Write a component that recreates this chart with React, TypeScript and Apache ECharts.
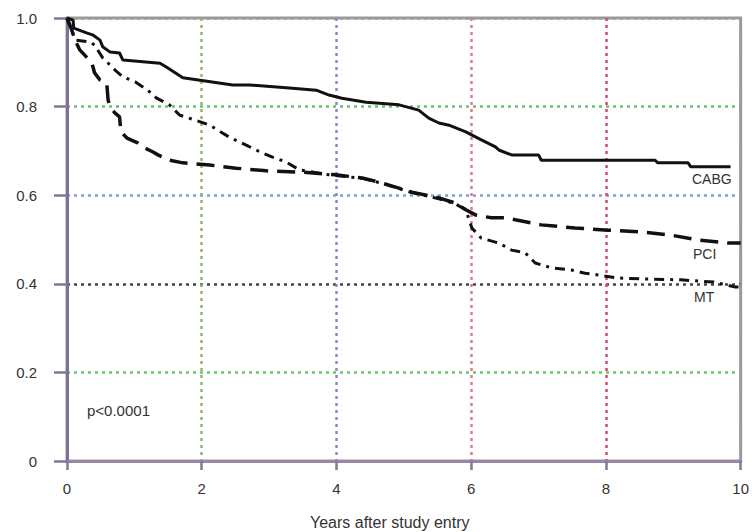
import React, { useEffect, useRef } from "react";
import * as echarts from "echarts";

// Years after study entry (x) and survival proportion (y) for each group
const cabgYears = [0, 0.09, 0.1, 0.3, 0.38, 0.49, 0.53, 0.64, 0.78, 0.83, 1.38, 1.48, 1.72, 2.46, 2.71, 3.3, 3.7, 3.89, 4.08, 4.44, 4.93, 5.22, 5.37, 5.52, 5.67, 5.92, 6.15, 6.36, 6.41, 6.6, 7.0, 7.04, 8.73, 8.77, 9.22, 9.26, 9.85];
const cabgSurv = [1.0, 0.995, 0.977, 0.966, 0.962, 0.95, 0.935, 0.923, 0.921, 0.905, 0.898, 0.889, 0.865, 0.849, 0.849, 0.842, 0.837, 0.826, 0.819, 0.81, 0.804, 0.792, 0.774, 0.763, 0.758, 0.743, 0.725, 0.709, 0.702, 0.691, 0.691, 0.679, 0.679, 0.673, 0.673, 0.664, 0.664];

const pciYears = [0, 0.07, 0.12, 0.19, 0.3, 0.37, 0.41, 0.49, 0.59, 0.61, 0.64, 0.71, 0.78, 0.8, 0.89, 1.05, 1.12, 1.27, 1.35, 1.52, 1.72, 2.12, 2.51, 2.96, 3.49, 3.99, 4.38, 4.67, 5.12, 5.52, 5.77, 5.92, 6.07, 6.3, 6.51, 7.04, 7.54, 8.03, 8.52, 8.96, 9.36, 9.81, 10.0];
const pciSurv = [1.0, 0.973, 0.95, 0.928, 0.91, 0.898, 0.876, 0.86, 0.853, 0.815, 0.799, 0.786, 0.777, 0.743, 0.729, 0.718, 0.709, 0.698, 0.691, 0.679, 0.673, 0.668, 0.661, 0.655, 0.652, 0.646, 0.639, 0.628, 0.607, 0.594, 0.582, 0.567, 0.555, 0.549, 0.549, 0.533, 0.526, 0.521, 0.517, 0.51, 0.499, 0.492, 0.492];

const mtYears = [0, 0.07, 0.12, 0.34, 0.41, 0.53, 0.64, 0.71, 0.83, 1.01, 1.2, 1.33, 1.52, 1.67, 1.89, 2.12, 2.41, 2.66, 2.86, 3.05, 3.25, 3.45, 3.89, 4.38, 4.67, 5.12, 5.52, 5.77, 5.92, 6.01, 6.15, 6.41, 6.6, 6.8, 6.95, 7.19, 7.49, 7.69, 7.88, 8.18, 8.52, 9.11, 9.6, 9.91, 10.0];
const mtSurv = [1.0, 0.973, 0.95, 0.946, 0.939, 0.91, 0.894, 0.883, 0.867, 0.856, 0.837, 0.819, 0.804, 0.781, 0.77, 0.758, 0.731, 0.713, 0.698, 0.686, 0.675, 0.657, 0.646, 0.638, 0.627, 0.606, 0.592, 0.58, 0.567, 0.526, 0.503, 0.492, 0.476, 0.47, 0.447, 0.436, 0.431, 0.424, 0.42, 0.413, 0.411, 0.409, 0.404, 0.393, 0.393];

const seriesNames = ["CABG", "PCI", "MT"];
const xTicks = [0, 2, 4, 6, 8, 10];
const yTicks = [0, 0.2, 0.4, 0.6, 0.8, 1.0];
const xTitle = "Years after study entry";
const pValueText = "p<0.0001";

const zip = (xs: number[], ys: number[]) => xs.map((x, i) => [x, ys[i]]);

export default function App() {
  const ref = useRef<HTMLDivElement>(null);
  useEffect(() => {
    if (!ref.current) return;
    const chart = echarts.init(ref.current, null, { renderer: "svg" });
    const font = "'Liberation Sans', Arial, sans-serif";
    chart.setOption({
      animation: false,
      backgroundColor: "#ffffff",
      grid: {
        left: 67,
        right: 10,
        top: 18,
        bottom: 71,
        show: true,
        borderColor: "#9a9a9a",
        borderWidth: 3,
      },
      xAxis: {
        type: "value",
        min: xTicks[0],
        max: xTicks[xTicks.length - 1],
        interval: 2,
        axisLine: { show: true, lineStyle: { color: "#9a86a6", width: 3 } },
        axisTick: { show: true, inside: false, length: 9, lineStyle: { color: "#7a7a9a", width: 2.5 } },
        axisLabel: {
          margin: 20,
          color: "#333",
          fontFamily: font,
          fontSize: 15,
          formatter: (v: number) => String(v),
        },
        splitLine: {
          show: true,
          lineStyle: {
            type: [3, 4],
            width: 2.5,
            color: ["#8a8aa0", "#8fb872", "#8e86c8", "#e07a8a", "#d8486a", "#9a9a9a"],
          },
        },
      },
      yAxis: {
        type: "value",
        min: yTicks[0],
        max: yTicks[yTicks.length - 1],
        interval: 0.2,
        axisLine: { show: true, lineStyle: { color: "#7f6f9f", width: 3 } },
        axisTick: { show: true, inside: false, length: 13, lineStyle: { color: "#7a7a9a", width: 2.5 } },
        axisLabel: {
          margin: 30,
          color: "#333",
          fontFamily: font,
          fontSize: 15,
          formatter: (v: number) => (v === 0 ? "0" : v.toFixed(1)),
        },
        splitLine: {
          show: true,
          lineStyle: {
            type: [3, 4],
            width: 2.5,
            color: ["#9a86a6", "#66cc66", "#444444", "#7fa0d0", "#6cbf6c", "#9a9a9a"],
          },
        },
      },
      series: [
        {
          name: seriesNames[0],
          type: "line",
          showSymbol: false,
          data: zip(cabgYears, cabgSurv),
          lineStyle: { color: "#111", width: 3, type: "solid" },
        },
        {
          name: seriesNames[1],
          type: "line",
          showSymbol: false,
          data: zip(pciYears, pciSurv),
          lineStyle: { color: "#111", width: 3.5, type: [18, 9] },
        },
        {
          name: seriesNames[2],
          type: "line",
          showSymbol: false,
          data: zip(mtYears, mtSurv),
          lineStyle: { color: "#111", width: 3, type: [10, 6, 3, 6] },
        },
      ],
      graphic: [
        {
          type: "text",
          x: 310,
          y: 514,
          style: { text: xTitle, fill: "#333", font: `16px ${font}` },
        },
        {
          type: "text",
          x: 87,
          y: 403,
          style: { text: pValueText, fill: "#333", font: `15px ${font}` },
        },
        {
          type: "text",
          x: 692,
          y: 172,
          style: { text: seriesNames[0], fill: "#333", font: `14px ${font}` },
        },
        {
          type: "text",
          x: 693,
          y: 247,
          style: { text: seriesNames[1], fill: "#333", font: `14px ${font}` },
        },
        {
          type: "text",
          x: 694,
          y: 290,
          style: { text: seriesNames[2], fill: "#333", font: `14px ${font}` },
        },
      ],
    });
    return () => chart.dispose();
  }, []);
  return (
    <div
      ref={ref}
      style={{ position: "fixed", left: 0, top: 0, width: 752, height: 532, background: "#fff" }}
    />
  );
}
